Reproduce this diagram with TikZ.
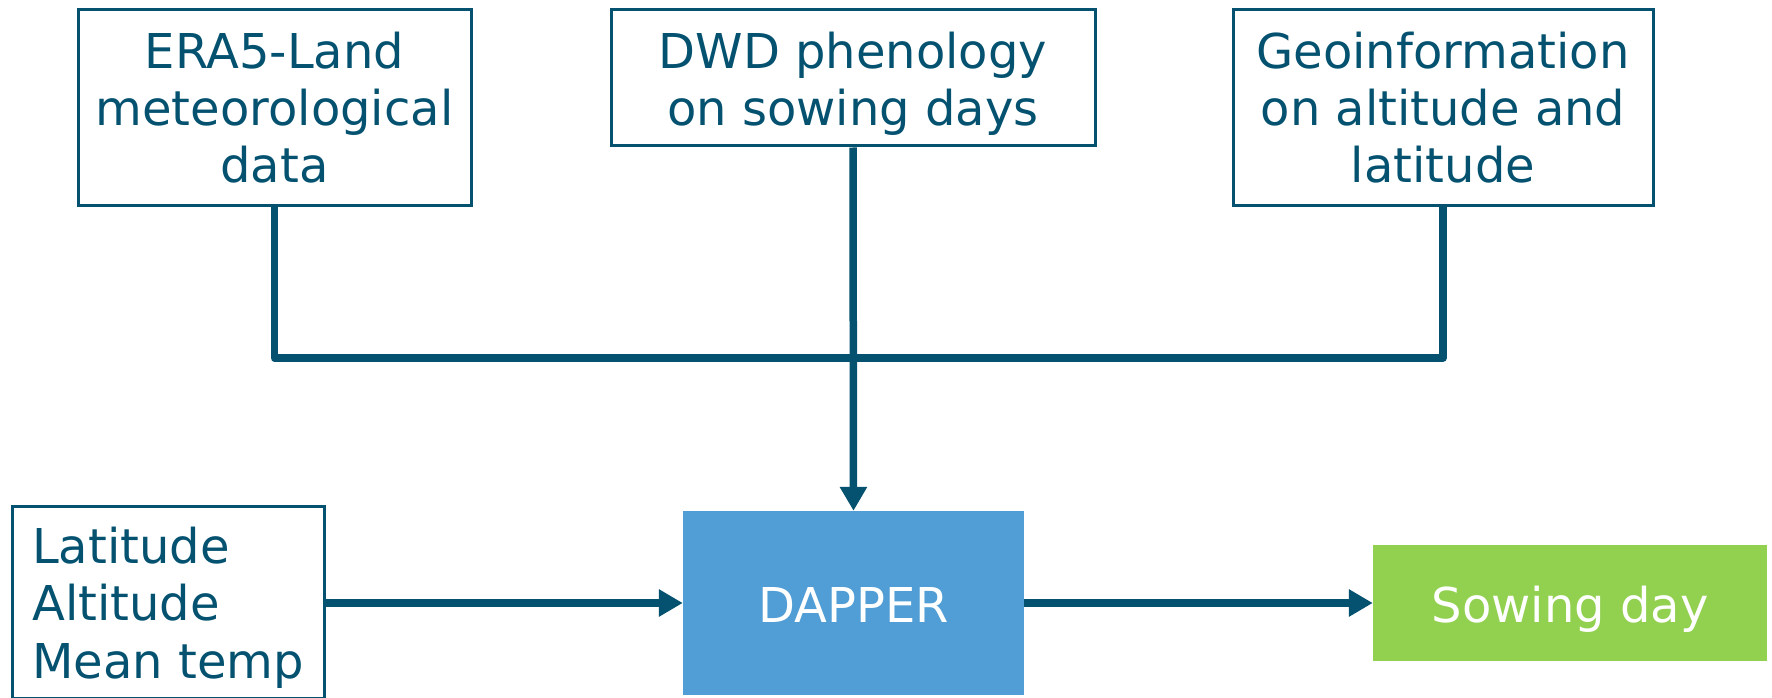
\documentclass[tikz,border=0pt]{standalone}
\usepackage{fontspec}
\setmainfont{DejaVu Sans}
\usetikzlibrary{arrows.meta}
\definecolor{teal}{RGB}{4,82,112}
\definecolor{dblue}{RGB}{80,158,213}
\definecolor{sgreen}{RGB}{146,208,80}
\tikzset{
  inbox/.style={draw=teal, line width=3pt, text=teal, align=center, inner sep=0pt,
    font=\fontsize{48}{57}\selectfont},
  txt/.style={inner sep=0pt, font=\fontsize{48}{57}\selectfont},
  conn/.style={draw=teal, line width=7.5pt, line join=round},
  arr/.style={conn, -{Triangle[length=24pt,width=26pt]}},
}
\begin{document}
\begin{tikzpicture}[x=1pt,y=-1pt]
\useasboundingbox (0,0) rectangle (1772,698);
\node[inbox, minimum width=393pt, minimum height=195pt] (era) at (274.5,107.5)
  {ERA5-Land\\meteorological\\data};
\node[inbox, minimum width=484pt, minimum height=136pt] (dwd) at (853,78) {};
\node[txt, text=teal, align=center] (dwdt) at (853,84) {DWD phenology\\on sowing days};
\node[inbox, minimum width=420pt, minimum height=195pt] (geo) at (1443,107.5)
  {Geoinformation\\on altitude and\\latitude};
\node[inbox, minimum width=312pt, minimum height=192pt, anchor=north west] (inp) at (11,505) {};
\node[txt, text=teal, anchor=base west] (l1) at (32,563) {Latitude};
\node[txt, text=teal, anchor=base west] (l2) at (32,620) {Altitude};
\node[txt, text=teal, anchor=base west] (l3) at (32,678) {Mean temp};
\node[fill=dblue, minimum width=341pt, minimum height=184pt, inner sep=0pt] (dapper) at (853.5,603) {};
\node[txt, text=white, anchor=base] (dappert) at (853.5,622) {DAPPER};
\node[fill=sgreen, minimum width=394pt, minimum height=116pt, inner sep=0pt] (sow) at (1570,603) {};
\node[txt, text=white, anchor=base] (sowt) at (1570,622) {Sowing day};
\coordinate (busy) at (0,358);
\draw[conn] (era.south) -- (era.south |- busy) -- (geo.south |- busy) -- (geo.south);
\draw[arr] (dwd.south) -- (dapper.north);
\draw[arr] (inp.east |- dapper.west) -- (dapper.west);
\draw[arr] (dapper.east) -- (sow.west);
\end{tikzpicture}
\end{document}
